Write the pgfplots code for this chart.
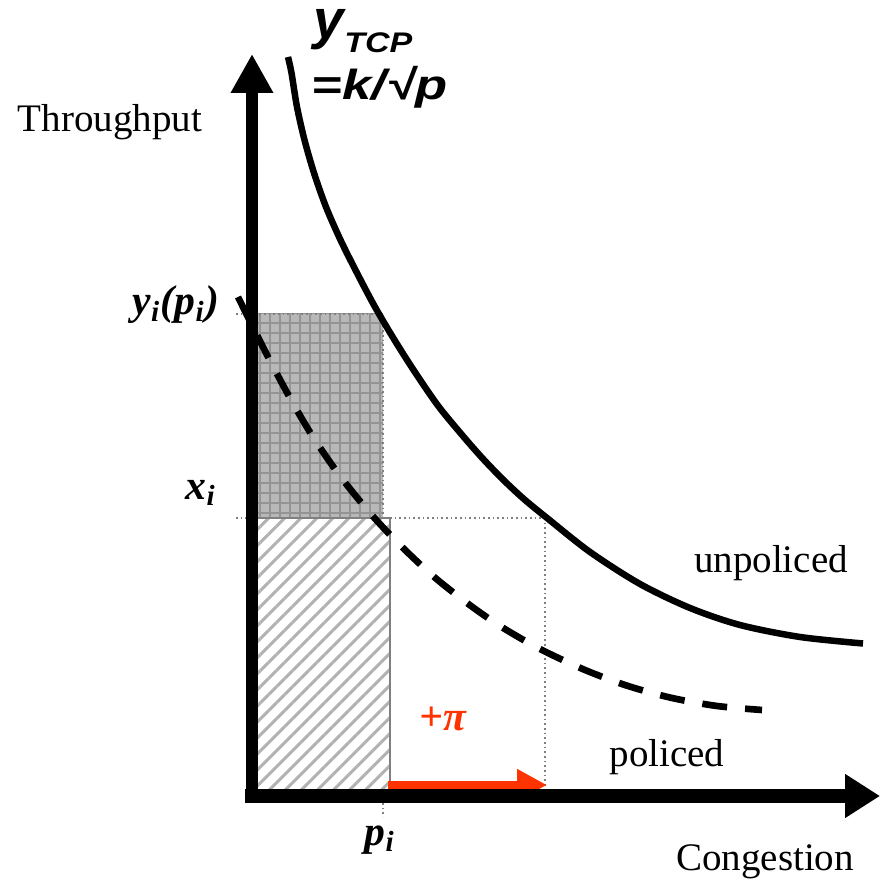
\documentclass[border=0pt]{standalone}
\usepackage{pgfplots}
\pgfplotsset{compat=1.18}
\usepackage{fontspec}
\setmainfont{Liberation Serif}
\newfontfamily\arialfont{Liberation Sans}
\usepackage{graphicx}
\usetikzlibrary{arrows.meta,patterns,patterns.meta}
\definecolor{redarrow}{RGB}{255,51,0}
\begin{document}
\begin{tikzpicture}
\begin{axis}[
  width=264.3pt, height=264.9pt, scale only axis,
  xmin=0, xmax=881, ymin=0, ymax=883,
  hide axis, clip=false,
  every axis plot/.append style={mark=none},
  every node/.append style={inner sep=0pt},
]
\addplot[draw=none, forget plot] coordinates {(0,0) (881,883)};
% gray cross-hatched rectangle
\addplot[draw=none, fill=black!28] coordinates {(258,365) (383,365) (383,569) (258,569) (258,365)};
\addplot[draw=none, pattern=grid, pattern color=black!42] coordinates {(258,365) (383,365) (383,569) (258,569) (258,365)};
% hatched rectangle
\addplot[draw=none, pattern={Lines[angle=45,distance=3.4pt,line width=0.9pt]}, pattern color=black!30] coordinates {(258,87) (390,87) (390,365) (258,365) (258,87)};
\addplot[black!50, line width=0.6pt] coordinates {(258,365) (390,365) (390,87)};
% dotted guide lines
\addplot[black!50, line width=0.5pt, dash pattern=on 0.5pt off 0.9pt] coordinates {(236,569) (383,569) (383,365)};
\addplot[black!50, line width=0.5pt, dash pattern=on 0.5pt off 0.9pt] coordinates {(236,365) (545,365)};
\addplot[black!50, line width=0.5pt, dash pattern=on 0.5pt off 0.9pt] coordinates {(545,365) (545,87)};
\addplot[black!50, line width=0.5pt, dash pattern=on 0.5pt off 0.9pt] coordinates {(383,80) (383,66)};
% unpoliced curve
\addplot[black, line width=1.95pt, smooth] coordinates {
(288,826) (291.5,810) (297,776) (304.5,743) (314,710) (326,676) (340.5,643) (357,610)
(375,576) (394.5,543) (415.5,510) (439,476) (465.5,444) (485,422) (505,401.5) (525,383)
(547,365) (590,331) (640,299) (690,275) (740,258) (800,246) (863,239.5)};
% policed curve
\addplot[black, line width=2pt, smooth, dash pattern=on 7.5pt off 5.4pt] coordinates {
(238,586) (265,532) (290,485) (313,446) (340,407) (370,370) (400,338) (433,307)
(467,280) (500,257) (540,234) (585,213) (628,197) (672,185) (717,177) (762,173)};
% red arrow
\addplot[redarrow, line width=2.4pt, -{Triangle[length=9pt,width=9pt]}] coordinates {(388,98) (547,98)};
% axes
\addplot[black, line width=3.75pt, -{Triangle[length=11.7pt,width=12pt]}] coordinates {(252,80) (252,829)};
\addplot[black, line width=4pt, -{Triangle[length=10.5pt,width=12.5pt]}] coordinates {(245,87) (880,87)};
% labels
\node[font=\fontsize{11.7}{14}\selectfont] at (axis cs:110,761) {Throughput};
\node[font=\fontsize{11.7}{14}\selectfont] at (axis cs:765,21) {Congestion};
\node[font=\fontsize{11.7}{14}\selectfont] at (axis cs:771,320) {unpoliced};
\node[font=\fontsize{11.7}{14}\selectfont] at (axis cs:667,126) {policed};
\node[font=\fontsize{12.5}{14}\selectfont\bfseries\itshape] at (axis cs:176,578) {y\textsubscript{i}(p\textsubscript{i})};
\node[font=\fontsize{12.5}{14}\selectfont\bfseries\itshape] at (axis cs:201,390) {x\textsubscript{i}};
\node[font=\fontsize{12.5}{14}\selectfont\bfseries\itshape] at (axis cs:380,43) {p\textsubscript{i}};
\node[font=\fontsize{12.5}{14}\selectfont\bfseries\itshape, text=redarrow] at (axis cs:443,164) {+π};
\node[anchor=base west, font=\arialfont\bfseries\itshape\fontsize{16.5}{17}\selectfont] at (axis cs:302,844) {y\raisebox{-0.45ex}{\fontsize{8.5}{9}\selectfont\scalebox{1.2}[1]{TCP}}};
\node[anchor=base west, font=\arialfont\bfseries\itshape\fontsize{12.6}{13}\selectfont] at (axis cs:300,783) {\scalebox{1.25}[1]{=k/√p}};
\coordinate (ll) at (axis cs:0,0);
\coordinate (ur) at (axis cs:881,883);
\end{axis}
\pgfresetboundingbox
\path[use as bounding box] (ll) rectangle (ur);
\end{tikzpicture}
\end{document}
